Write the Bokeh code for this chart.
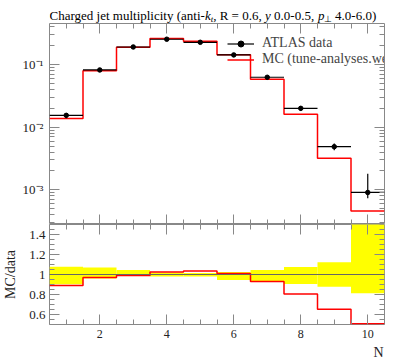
import math
from bokeh.plotting import figure
from bokeh.models import (FixedTicker, LinearAxis, LogAxis, Label, Legend, LegendItem,
                          CustomJSTickFormatter, CustomLabelingPolicy, Span, Range1d)
from bokeh.layouts import column
from bokeh.embed import file_html
from bokeh.resources import INLINE

# ---------------- data ----------------
bin_lo = [0.5, 1.5, 2.5, 3.5, 4.5, 5.5, 6.5, 7.5, 8.5, 9.5]
bin_hi = [1.5, 2.5, 3.5, 4.5, 5.5, 6.5, 7.5, 8.5, 9.5, 10.5]
n_mult = [1, 2, 3, 4, 5, 6, 7, 8, 9, 10]
atlas = [0.01545, 0.0820, 0.1910, 0.2540, 0.2270, 0.1426, 0.0627, 0.0200, 0.00488, 0.000906]
atlas_err_up = [0.0012, 0.0057, 0.0086, 0.0051, 0.0034, 0.0036, 0.0028, 0.0015, 0.0006, 0.00089]
atlas_err_dn = [0.0015, 0.0033, 0.0029, 0.0051, 0.0045, 0.0078, 0.0047, 0.0019, 0.0006, 0.00017]
mc = [0.01375, 0.0795, 0.1890, 0.2605, 0.2350, 0.1440, 0.0583, 0.0161, 0.00319, 0.000459]

x_major_ticks = [2, 4, 6, 8, 10]
y_log_ticks = [1e-3, 1e-2, 1e-1]
ratio_ticks = [0.6, 0.8, 1.0, 1.2, 1.4]

title_parts = [("Charged jet multiplicity (anti-", "normal", 13, 0),
               ("k", "italic", 13, 0), ("t", "italic", 9, -3),
               (", R = 0.6,", "normal", 13, 0), ("y", "italic", 13, 0),
               ("0.0-0.5,", "normal", 13, 0), ("p", "italic", 13, 0),
               ("\u22a5", "normal", 9, -3), ("4.0-6.0)", "normal", 13, 0)]
title_offsets = [0, 155.4, 161.2, 163.7, 215.5, 224.6, 268.4, 274.9, 285.6]

# ---------------- derived ----------------
ratio = [m / d for m, d in zip(mc, atlas)]
band_top = [1 + u / d for u, d in zip(atlas_err_up, atlas)]
band_bot = [1 - e / d for e, d in zip(atlas_err_dn, atlas)]
err_top = [d + u for d, u in zip(atlas, atlas_err_up)]
err_bot = [d - e for d, e in zip(atlas, atlas_err_dn)]
step_x = bin_lo + [bin_hi[-1]]

GRAY = "#888888"
FONT = "Liberation Serif"
RED = "#ff0000"
W = 397
LEFT, RIGHT = 49, 13

x_minor = [i * 0.5 for i in range(2, 21) if i % 4 != 0]
log_minor = [k * 10.0 ** d for d in (-4, -3, -2, -1) for k in range(2, 10)]
ratio_minor = [round(0.5 + 0.05 * i, 2) for i in range(21)]

log_fmt = CustomJSTickFormatter(code="""
const e = Math.round(Math.log10(tick));
const m = {'-':'\u207b','0':'\u2070','1':'\u00b9','2':'\u00b2','3':'\u00b3','4':'\u2074'};
return '10' + String(e).split('').map(c => m[c]).join('');
""")
ratio_fmt = CustomJSTickFormatter(code="return String(Math.round(tick*10)/10);")


def style_axis(ax, show_labels, standoff=5, fixed=None):
    ax.major_tick_in = 10
    ax.major_tick_out = 0
    ax.minor_tick_in = 5
    ax.minor_tick_out = 0
    ax.axis_line_color = None
    ax.major_tick_line_color = GRAY
    ax.minor_tick_line_color = GRAY
    if show_labels:
        ax.major_label_text_font = FONT
        ax.major_label_text_font_size = "13px"
        ax.major_label_text_color = "#222222"
        ax.major_label_standoff = standoff
    else:
        ax.major_label_text_font_size = "2px"
        ax.major_label_standoff = 0
        ax.major_label_policy = CustomLabelingPolicy(
            code="for (const i of indices) indices.unset(i); return indices;")
    if fixed is not None:
        ax.fixed_location = fixed
    return ax


def strip(height):
    # frame of the strip lines up with the plot frames: x data = page pixels
    s = figure(width=W, height=height, x_range=Range1d(LEFT, W - RIGHT),
               y_range=Range1d(0, height),
               x_axis_location=None, y_axis_location=None, output_backend="svg",
               toolbar_location=None, min_border_left=LEFT, min_border_right=RIGHT,
               min_border_top=0, min_border_bottom=0)
    s.outline_line_color = None
    s.grid.visible = False
    return s


x_range = Range1d(0.5, 10.5)
y_main = Range1d(2.79e-4, 0.453)
y_ratio = Range1d(0.5, 1.5)

# ---------------- title strip ----------------
p0 = strip(23)
for (txt, style, size, dy), dx in zip(title_parts, title_offsets):
    p0.add_layout(Label(x=LEFT + dx, y=8 + dy, text=txt,
                        text_font=FONT, text_font_size=f"{size}px", text_font_style=style,
                        text_baseline="alphabetic", text_align="left", text_color="black"))

# ---------------- main panel ----------------
p1 = figure(width=W, height=201, x_range=x_range, y_range=y_main,
            y_axis_type="log", x_axis_location=None, y_axis_location=None,
            output_backend="svg", toolbar_location=None,
            min_border_left=LEFT, min_border_right=RIGHT, min_border_top=0, min_border_bottom=0)
p1.outline_line_color = GRAY
p1.grid.visible = False

xt = FixedTicker(ticks=x_major_ticks, minor_ticks=x_minor)
lt = FixedTicker(ticks=y_log_ticks, minor_ticks=log_minor)
p1.add_layout(style_axis(LogAxis(ticker=lt, formatter=log_fmt), True, 6), "left")
p1.add_layout(style_axis(LogAxis(ticker=lt), False, fixed=x_range.end), "right")
p1.add_layout(style_axis(LinearAxis(ticker=xt), False, fixed=y_main.end), "above")
p1.add_layout(style_axis(LinearAxis(ticker=xt), False, fixed=y_main.start), "below")

r_mc = p1.step(x=step_x, y=mc + [mc[-1]], mode="after", line_color=RED, line_width=1.5)
r_hbar = p1.segment(x0=bin_lo, x1=bin_hi, y0=atlas, y1=atlas, line_color="black", line_width=1.2)
p1.segment(x0=n_mult, x1=n_mult, y0=err_bot, y1=err_top, line_color="black", line_width=1.2)
r_pts = p1.scatter(x=n_mult, y=atlas, size=4.5, color="black")

legend = Legend(items=[LegendItem(label="ATLAS data", renderers=[r_hbar, r_pts]),
                       LegendItem(label="MC (tune-analyses.weight", renderers=[r_mc])],
                location=(178, 157), padding=0, margin=0, spacing=0,
                glyph_width=27, glyph_height=15, label_height=15, label_standoff=8,
                label_text_font=FONT, label_text_font_size="14px",
                border_line_color=None, background_fill_alpha=0)
p1.add_layout(legend)

# ---------------- ratio panel ----------------
p2 = figure(width=W, height=120, x_range=x_range, y_range=y_ratio,
            x_axis_location=None, y_axis_location=None,
            output_backend="svg", toolbar_location=None,
            min_border_left=LEFT, min_border_right=RIGHT, min_border_top=0, min_border_bottom=20)
p2.outline_line_color = GRAY
p2.grid.visible = False

rt = FixedTicker(ticks=ratio_ticks, minor_ticks=ratio_minor)
left2 = style_axis(LinearAxis(ticker=rt, formatter=ratio_fmt), True, 4)
left2.axis_label = "MC/data"
left2.axis_label_text_font = FONT
left2.axis_label_text_font_size = "14px"
left2.axis_label_text_font_style = "normal"
left2.axis_label_text_color = "#222222"
left2.axis_label_standoff = 8
p2.add_layout(left2, "left")
p2.add_layout(style_axis(LinearAxis(ticker=rt), False, fixed=x_range.end), "right")
p2.add_layout(style_axis(LinearAxis(ticker=xt), False, fixed=y_ratio.end), "above")
bottom2 = style_axis(LinearAxis(ticker=xt), True, 5)
bottom2.major_label_text_font_size = "12px"
p2.add_layout(bottom2, "below")

p2.quad(left=bin_lo, right=bin_hi, bottom=band_bot, top=band_top,
        fill_color="#ffff00", line_color=None)
p2.add_layout(Span(location=1, dimension="width", line_color="#666666", line_width=1))
p2.step(x=step_x, y=ratio + [ratio[-1]], mode="after", line_color=RED, line_width=1.5)

# ---------------- footer strip (x-axis title) ----------------
p3 = strip(14)
p3.add_layout(Label(x=W - RIGHT - 1, y=6.5, text="N", text_font=FONT, text_font_size="14px",
                    text_align="right", text_baseline="alphabetic", text_color="#222222"))

layout = column(p0, p1, p2, p3)
open("out.html", "w").write(file_html(layout, INLINE))
